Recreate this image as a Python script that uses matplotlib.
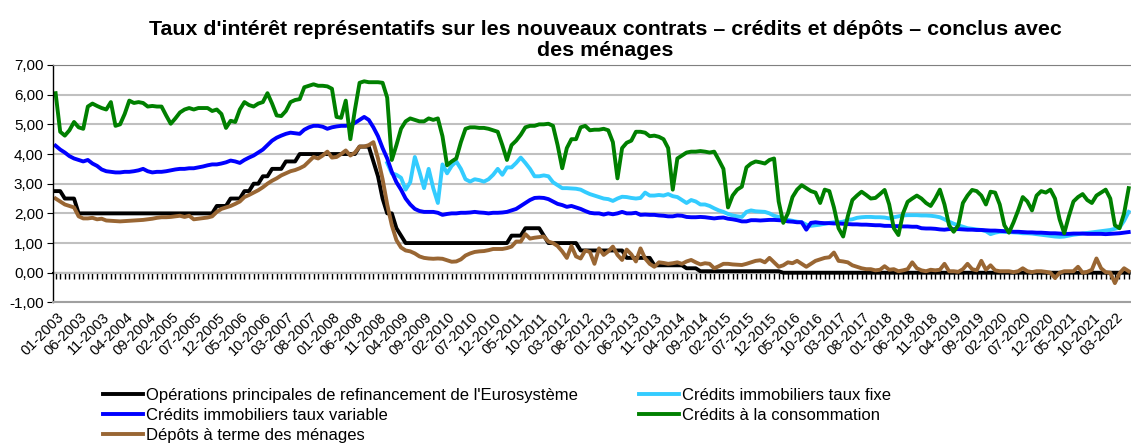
import numpy as np
import matplotlib
matplotlib.use('Agg')
import matplotlib.pyplot as plt
import matplotlib.transforms as mtransforms
from matplotlib.ticker import FuncFormatter

plt.rcParams['font.family'] = ['Liberation Sans', 'DejaVu Sans']

# mois de janvier 2003 a juin 2022
mois = [f'{m:02d}-{a}' for a in range(2003, 2023) for m in range(1, 13)][:234]

# taux directeur BCE (operations principales de refinancement)
refi = ([2.75, 2.75, 2.5, 2.5, 2.5] + [2.0] * 7
        + [2.0] * 12
        + [2.0] * 11 + [2.25]
        + [2.25, 2.25, 2.5, 2.5, 2.5, 2.75, 2.75, 3.0, 3.0, 3.25, 3.25, 3.5]
        + [3.5, 3.5, 3.75, 3.75, 3.75] + [4.0] * 7
        + [4.0] * 6 + [4.25, 4.25, 4.25, 3.75, 3.25, 2.5]
        + [2.0, 2.0, 1.5, 1.25] + [1.0] * 8
        + [1.0] * 12
        + [1.0, 1.0, 1.0, 1.25, 1.25, 1.25, 1.5, 1.5, 1.5, 1.5, 1.25, 1.0]
        + [1.0] * 6 + [0.75] * 6
        + [0.75] * 4 + [0.5] * 6 + [0.25, 0.25]
        + [0.25] * 5 + [0.15] * 3 + [0.05] * 4
        + [0.05] * 12
        + [0.05, 0.05] + [0.0] * 10
        + [0.0] * 60
        + [0.0] * 6)

immo_fixe = ([np.nan] * 72
             + [3.7, 3.35, 3.3, 3.2, 2.8, 3.05, 3.9, 3.4, 2.85, 3.5, 2.85, 2.35]
             + [3.65, 3.35, 3.6, 3.75, 3.5, 3.15, 3.07, 3.15, 3.12, 3.07, 3.15, 3.3]
             + [3.5, 3.3, 3.55, 3.55, 3.7, 3.88, 3.7, 3.5, 3.25, 3.25, 3.28, 3.25]
             + [3.05, 2.95, 2.85, 2.85, 2.84, 2.83, 2.8, 2.72, 2.65, 2.6, 2.55, 2.5]
             + [2.48, 2.42, 2.5, 2.56, 2.55, 2.52, 2.5, 2.52, 2.7, 2.6, 2.6, 2.62]
             + [2.6, 2.65, 2.58, 2.55, 2.45, 2.35, 2.45, 2.4, 2.3, 2.3, 2.25, 2.17]
             + [2.1, 2.05, 1.98, 1.93, 1.9, 1.88, 2.05, 2.1, 2.07, 2.06, 2.05, 2.0]
             + [1.92, 1.88, 1.82, 1.78, 1.75, 1.72, 1.7, 1.62, 1.58, 1.6, 1.62, 1.65]
             + [1.68, 1.7, 1.7, 1.72, 1.78, 1.8, 1.85, 1.87, 1.88, 1.88, 1.87, 1.87]
             + [1.86, 1.83, 1.87, 1.9, 1.93, 1.94, 1.94, 1.94, 1.93, 1.93, 1.92, 1.9]
             + [1.87, 1.8, 1.72, 1.65, 1.6, 1.55, 1.5, 1.48, 1.46, 1.44, 1.4, 1.3]
             + [1.35, 1.38, 1.38, 1.37, 1.36, 1.35, 1.33, 1.33, 1.32, 1.3, 1.28, 1.26]
             + [1.24, 1.22, 1.21, 1.22, 1.25, 1.28, 1.3, 1.32, 1.34, 1.36, 1.38, 1.4]
             + [1.42, 1.44, 1.48, 1.52, 1.75, 2.05])

immo_variable = [4.28, 4.15, 4.05, 3.93, 3.85, 3.8, 3.75, 3.8, 3.68, 3.6, 3.48, 3.42,
                 3.4, 3.38, 3.38, 3.4, 3.4, 3.42, 3.45, 3.5, 3.42, 3.38, 3.4, 3.4,
                 3.42, 3.45, 3.48, 3.5, 3.5, 3.52, 3.52, 3.55, 3.58, 3.62, 3.65, 3.65,
                 3.68, 3.72, 3.78, 3.75, 3.7, 3.8, 3.88, 3.95, 4.05, 4.15, 4.3, 4.45,
                 4.55, 4.62, 4.68, 4.72, 4.7, 4.68, 4.82, 4.9, 4.95, 4.95, 4.92, 4.85,
                 4.9, 4.93, 4.95, 4.95, 4.98, 5.05, 5.15, 5.25, 5.15, 4.9, 4.6, 4.2,
                 3.85, 3.4, 3.05, 2.8, 2.5, 2.3, 2.15, 2.08, 2.05, 2.05, 2.05, 2.02,
                 1.95, 1.98, 2.0, 2.0, 2.02, 2.02, 2.03, 2.05, 2.03, 2.02, 2.0, 2.02,
                 2.02, 2.03, 2.05, 2.1, 2.15, 2.25, 2.35, 2.45, 2.52, 2.53, 2.52, 2.48,
                 2.4, 2.32, 2.28, 2.22, 2.25, 2.2, 2.15, 2.08, 2.02, 2.0, 2.0, 1.96,
                 2.0, 1.97, 2.0, 2.05, 2.0, 2.0, 2.02, 1.95, 1.96, 1.95, 1.95, 1.93,
                 1.92, 1.9, 1.9, 1.93, 1.92, 1.88, 1.87, 1.87, 1.88, 1.87, 1.85, 1.83,
                 1.85, 1.86, 1.82, 1.8, 1.77, 1.73, 1.73, 1.77, 1.77, 1.76, 1.77, 1.78,
                 1.78, 1.77, 1.76, 1.73, 1.72, 1.7, 1.7, 1.45, 1.68, 1.7, 1.68, 1.67,
                 1.67, 1.66, 1.66, 1.65, 1.64, 1.63, 1.63, 1.62, 1.62, 1.61, 1.6, 1.6,
                 1.58, 1.58, 1.57, 1.57, 1.56, 1.56, 1.55, 1.55, 1.5, 1.49, 1.49, 1.48,
                 1.46, 1.45, 1.47, 1.47, 1.47, 1.46, 1.45, 1.45, 1.44, 1.44, 1.43, 1.42,
                 1.42, 1.41, 1.4, 1.39, 1.38, 1.38, 1.37, 1.36, 1.36, 1.35, 1.35, 1.34,
                 1.33, 1.33, 1.32, 1.31, 1.31, 1.32, 1.32, 1.32, 1.31, 1.31, 1.31, 1.31,
                 1.3, 1.31, 1.32, 1.33, 1.35, 1.37]

conso = [6.05, 4.75, 4.62, 4.8, 5.08, 4.9, 4.85, 5.6, 5.7, 5.62, 5.55, 5.5,
         5.75, 4.95, 5.0, 5.35, 5.8, 5.72, 5.75, 5.72, 5.6, 5.62, 5.6, 5.6,
         5.3, 5.02, 5.2, 5.4, 5.5, 5.55, 5.5, 5.55, 5.55, 5.55, 5.45, 5.5,
         5.35, 4.88, 5.12, 5.08, 5.5, 5.75, 5.65, 5.6, 5.7, 5.75, 6.05, 5.7,
         5.3, 5.28, 5.45, 5.75, 5.82, 5.85, 6.25, 6.3, 6.35, 6.3, 6.3, 6.28,
         6.2, 5.25, 5.22, 5.8, 4.5, 5.5, 6.4, 6.45, 6.42, 6.42, 6.42, 6.4,
         5.9, 3.8, 4.3, 4.85, 5.1, 5.2, 5.15, 5.1, 5.1, 5.2, 5.15, 5.2,
         4.6, 3.62, 3.75, 3.85, 4.4, 4.85, 4.9, 4.9, 4.88, 4.88, 4.85, 4.8,
         4.75, 4.3, 3.8, 4.3, 4.45, 4.65, 4.9, 4.95, 4.95, 5.0, 5.0, 5.02,
         4.95, 4.3, 3.52, 4.2, 4.5, 4.5, 4.9, 4.95, 4.8, 4.82, 4.82, 4.85,
         4.8, 4.4, 3.18, 4.2, 4.38, 4.45, 4.75, 4.75, 4.72, 4.6, 4.62, 4.58,
         4.5, 4.2, 2.8, 3.85, 3.95, 4.05, 4.08, 4.08, 4.1, 4.08, 4.05, 4.08,
         3.8, 3.5, 2.2, 2.6, 2.8, 2.9, 3.55, 3.68, 3.75, 3.72, 3.68, 3.8,
         3.85, 2.4, 1.68, 2.0, 2.55, 2.8, 2.95, 2.85, 2.75, 2.7, 2.35, 2.8,
         2.75, 2.2, 1.5, 1.22, 1.9, 2.45, 2.6, 2.73, 2.62, 2.5, 2.52, 2.65,
         2.79, 2.3, 1.5, 1.27, 2.0, 2.39, 2.5, 2.6, 2.5, 2.35, 2.25, 2.5,
         2.8, 2.3, 1.6, 1.38, 1.6, 2.35, 2.6, 2.79, 2.75, 2.6, 2.3, 2.73,
         2.7, 2.3, 1.6, 1.35, 1.7, 2.1, 2.55, 2.4, 2.1, 2.6, 2.75, 2.7,
         2.8, 2.5, 1.8, 1.33, 1.9, 2.4, 2.55, 2.65, 2.45, 2.35, 2.6, 2.7,
         2.8, 2.5, 1.6, 1.5, 2.0, 2.85]

depots = [2.5, 2.4, 2.3, 2.25, 2.2, 1.9, 1.83, 1.83, 1.85, 1.8, 1.82, 1.76,
          1.75, 1.74, 1.73, 1.74, 1.75, 1.76, 1.77, 1.78, 1.8, 1.82, 1.85, 1.87,
          1.87, 1.88, 1.9, 1.92, 1.88, 1.92, 1.8, 1.82, 1.84, 1.86, 1.9, 2.05,
          2.15, 2.2, 2.25, 2.32, 2.4, 2.55, 2.62, 2.7, 2.78, 2.88, 3.0, 3.1,
          3.18, 3.28, 3.35, 3.42, 3.46, 3.52, 3.6, 3.75, 3.9, 3.85, 3.95, 4.08,
          3.88, 3.9, 4.0, 4.12, 3.95, 4.05, 4.25, 4.25, 4.3, 4.4, 3.85, 3.15,
          2.3, 1.6, 1.1, 0.85, 0.75, 0.72, 0.65, 0.55, 0.5, 0.48, 0.47, 0.48,
          0.47, 0.42, 0.37, 0.38, 0.45, 0.58, 0.65, 0.7, 0.72, 0.73, 0.76, 0.8,
          0.8, 0.8, 0.83, 0.88, 1.05, 1.05, 1.3, 1.15, 1.18, 1.2, 1.22, 1.05,
          1.0, 0.9, 0.72, 0.5, 0.9, 0.55, 0.48, 0.75, 0.7, 0.3, 0.82, 0.6,
          0.72, 0.88, 0.6, 0.43, 0.78, 0.62, 0.38, 0.82, 0.48, 0.3, 0.2, 0.35,
          0.33, 0.3, 0.32, 0.35, 0.3, 0.38, 0.43, 0.35, 0.28, 0.32, 0.3, 0.15,
          0.22, 0.3, 0.3, 0.28, 0.27, 0.26, 0.3, 0.35, 0.4, 0.42, 0.35, 0.5,
          0.35, 0.2, 0.25, 0.35, 0.32, 0.4, 0.3, 0.2, 0.3, 0.4, 0.45, 0.5,
          0.52, 0.68, 0.4, 0.38, 0.35, 0.25, 0.2, 0.15, 0.12, 0.12, 0.08, 0.1,
          0.22, 0.1, 0.12, 0.05, 0.08, 0.12, 0.35, 0.15, 0.08, 0.05, 0.1, 0.08,
          0.1, 0.3, 0.05, 0.05, 0.03, 0.12, 0.3, 0.12, 0.08, 0.4, 0.1, 0.25,
          0.08, 0.05, 0.05, 0.05, 0.02, 0.05, 0.15, 0.05, 0.02, 0.05, 0.05, 0.03,
          0.0, -0.18, 0.0, 0.05, 0.05, 0.05, 0.2, 0.0, 0.03, 0.1, 0.48, 0.15,
          0.02, 0.0, -0.35, -0.02, 0.15, 0.05]

titre = "Taux d'intérêt représentatifs sur les nouveaux contrats – crédits et dépôts – conclus avec\ndes ménages"
noms = ["Opérations principales de refinancement de l'Eurosystème",
        "Crédits immobiliers taux fixe",
        "Crédits immobiliers taux variable",
        "Crédits à la consommation",
        "Dépôts à terme des ménages"]

x = np.arange(len(mois))

fig = plt.figure(figsize=(11.31, 4.44), dpi=100)
ax = fig.add_axes([53.3 / 1131, (444 - 302.4) / 444, 1 - 53.3 / 1131, (302.4 - 65) / 444])

lw = 2.8
l_refi, = ax.plot(x, refi, color='black', lw=lw, label=noms[0])
l_fixe, = ax.plot(x, immo_fixe, color='#33CCFF', lw=lw, label=noms[1])
l_var, = ax.plot(x, immo_variable, color='#0000FF', lw=lw, label=noms[2])
l_conso, = ax.plot(x, conso, color='#008000', lw=lw, label=noms[3])
l_dep, = ax.plot(x, depots, color='#996633', lw=lw, label=noms[4])

ax.set_xlim(-0.5, len(mois) - 0.5)
ax.set_ylim(-1, 7)
ax.set_yticks(range(-1, 8))
ax.yaxis.set_major_formatter(FuncFormatter(lambda v, p: f'{v:.2f}'.replace('.', ',')))
ax.tick_params(axis='y', length=4, labelsize=11, pad=3)
ax.yaxis.grid(True, color='#C0C0C0', lw=1.5)
ax.set_axisbelow(True)

ax.set_xticks(x[::5])
ax.set_xticklabels(mois[::5], rotation=45, ha='right', va='center',
                   rotation_mode='anchor', fontsize=10.5)
ax.tick_params(axis='x', length=0, pad=9)
decalage = mtransforms.ScaledTranslation(0.06, 0, fig.dpi_scale_trans)
for lab in ax.get_xticklabels():
    lab.set_transform(lab.get_transform() + decalage)

ax.spines['right'].set_visible(False)
ax.spines['top'].set_color('#808080')
ax.spines['bottom'].set_color('#A0A0A0')
ax.spines['bottom'].set_linewidth(1.5)
ax.spines['left'].set_linewidth(1.0)

# axe horizontal a zero avec une graduation par mois
axe0 = ax.secondary_xaxis(1 / 8)
axe0.set_xticks(x)
axe0.tick_params(axis='x', length=4, width=1, labelbottom=False)
axe0.spines['bottom'].set_linewidth(1.5)

fig.text(0.535, 1 - 20 / 444, titre, ha='center', va='top', fontsize=15.4,
         fontweight='bold', linespacing=1.1)

fig.legend([l_refi, l_var, l_dep, l_fixe, l_conso],
           [noms[0], noms[2], noms[4], noms[1], noms[3]],
           ncol=2, loc='upper left', bbox_to_anchor=(103 / 1131, 1 - 388 / 444),
           frameon=False, fontsize=12, handlelength=2.4, handletextpad=0.15,
           labelspacing=0.3, columnspacing=3.7, borderpad=0, borderaxespad=0)

fig.savefig('out.png', dpi=100)
